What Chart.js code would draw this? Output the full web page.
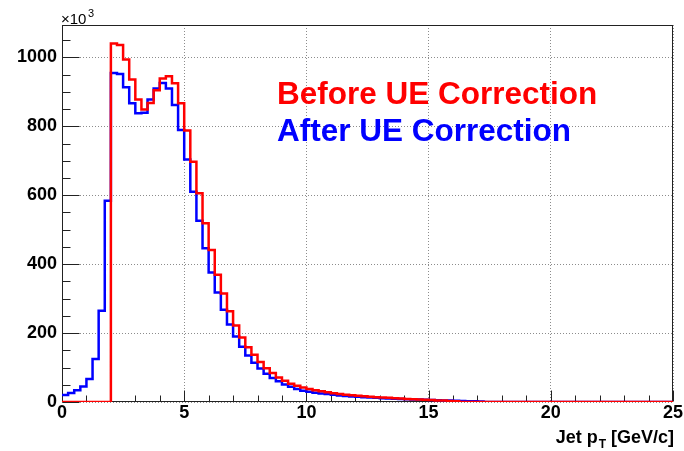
<!DOCTYPE html>
<html>
<head>
<meta charset="utf-8">
<script src="https://cdn.jsdelivr.net/npm/chart.js@4.4.1/dist/chart.umd.min.js"></script>
<style>
  html, body { margin: 0; padding: 0; background: #ffffff; }
  #wrap { width: 684px; height: 451px; }
</style>
</head>
<body>
<div id="wrap"><canvas id="myChart" width="684" height="451"></canvas></div>
<script>
// histogram: 100 bins of 0.25 GeV/c from 0 to 25, values in units of 10^3
var binWidth = 0.25;
var xMin = 0, xMax = 25;

var beforeUE = [
  0, 0, 0, 0, 0, 0, 0, 0,
  1040, 1036, 994, 936, 878, 849, 868, 905, 939, 945, 925, 867,
  788, 697, 606, 519, 441, 369, 315, 263, 222, 187, 159, 137,
  116, 98, 84, 71, 62, 53, 47, 42, 38, 34, 31, 28,
  25.5, 23, 21, 19.5, 18, 16.5, 15, 14, 13, 12, 11, 10,
  9, 8, 7.5, 6.5, 5.5, 4.5, 4, 3, 2, 0, 0, 0,
  0, 0, 0, 0, 0, 0, 0, 0, 0, 0, 0, 0,
  0, 0, 0, 0, 0, 0, 0, 0, 0, 0, 0, 0,
  0, 0, 0, 0
];

var afterUE = [
  20, 26, 34, 45, 67, 125, 265, 584,
  955, 952, 913, 867, 838, 839, 878, 910, 926, 910, 862, 789,
  704, 610, 526, 446, 376, 318, 268, 225, 190, 160, 135, 114,
  97, 82, 70, 60, 51, 44, 38, 33, 30, 27, 25, 23,
  21, 19, 17.5, 16, 15, 14, 13, 12, 11, 10, 9.5, 9,
  8, 7.5, 7, 6.5, 6, 5, 4.5, 4, 3.5, 3, 2.5, 2,
  1.5, 0, 0, 0, 0, 0, 0, 0, 0, 0, 0, 0,
  0, 0, 0, 0, 0, 0, 0, 0, 0, 0, 0, 0,
  0, 0, 0, 0
];

var xTicks = [0, 5, 10, 15, 20, 25];
var yTicks = [0, 200, 400, 600, 800, 1000];
var yMax = 1094;
var xMinorStep = 1, yMinorStep = 50;

// lower bin edges plus the final edge so the last bin gets its full width
function toPoints(values) {
  var pts = [];
  for (var i = 0; i < values.length; i++) {
    pts.push({ x: i * binWidth, y: values[i] });
  }
  pts.push({ x: xMax, y: values[values.length - 1] });
  return pts;
}

var fontFamily = "'Liberation Sans', Arial, Helvetica, sans-serif";

// ROOT style frame with inner ticks, drawn under the histograms
var rootFrame = {
  id: "rootFrame",
  beforeDatasetsDraw: function (chart) {
    var ctx = chart.ctx;
    var a = chart.chartArea;
    var xs = chart.scales.x;
    var ys = chart.scales.y;
    var L = Math.round(a.left) + 0.5;
    var R = Math.round(a.right) - 0.5;
    var T = Math.round(a.top) + 0.5;
    var B = Math.round(a.bottom) - 0.5;
    ctx.save();
    ctx.strokeStyle = "#222222";
    ctx.lineWidth = 1;
    ctx.strokeRect(L, T, R - L, B - T);

    ctx.beginPath();
    for (var v = 0; v <= yMax; v += yMinorStep) {
      var py = Math.round(ys.getPixelForValue(v)) + 0.5;
      var len = v % 200 === 0 ? 17 : 8;
      ctx.moveTo(L, py);
      ctx.lineTo(L + len, py);
    }
    for (var u = xMin; u <= xMax; u += xMinorStep) {
      var px = Math.round(xs.getPixelForValue(u)) + 0.5;
      var len2 = u % 5 === 0 ? 11 : 6;
      ctx.moveTo(px, B);
      ctx.lineTo(px, B - len2);
    }
    ctx.stroke();
    ctx.restore();
  },
  afterDraw: function (chart) {
    var ctx = chart.ctx;
    ctx.save();
    ctx.textBaseline = "alphabetic";
    ctx.textAlign = "left";

    // exponent label
    ctx.fillStyle = "#000000";
    ctx.font = "15px " + fontFamily;
    ctx.fillText("\u00d710", 61, 24);
    ctx.font = "11px " + fontFamily;
    ctx.fillText("3", 88, 17);

    // legend text
    ctx.font = "bold 31.5px " + fontFamily;
    ctx.fillStyle = "#ff0000";
    ctx.fillText("Before UE Correction", 277, 104);
    ctx.fillStyle = "#0000ff";
    ctx.fillText("After UE Correction", 277, 141);

    // x axis title with subscript, right aligned to the frame
    ctx.fillStyle = "#000000";
    var big = "bold 18px " + fontFamily;
    var small = "bold 12px " + fontFamily;
    ctx.font = big;
    var w1 = ctx.measureText("Jet p").width;
    var w3 = ctx.measureText(" [GeV/c]").width;
    ctx.font = small;
    var w2 = ctx.measureText("T").width;
    var x0 = chart.chartArea.right - (w1 + w2 + w3);
    ctx.font = big;
    ctx.fillText("Jet p", x0, 443);
    ctx.font = small;
    ctx.fillText("T", x0 + w1 + 1, 448);
    ctx.font = big;
    ctx.fillText(" [GeV/c]", x0 + w1 + w2 + 1, 443);
    ctx.restore();
  }
};

function plainLabel(value) {
  return String(value);
}

var ctx = document.getElementById("myChart").getContext("2d");
var myChart = new Chart(ctx, {
  type: "line",
  data: {
    datasets: [
      {
        label: "Before UE Correction",
        data: toPoints(beforeUE),
        borderColor: "#ff0000",
        borderWidth: 2.5,
        stepped: "before",
        fill: false,
        pointRadius: 0
      },
      {
        label: "After UE Correction",
        data: toPoints(afterUE),
        borderColor: "#0000ff",
        borderWidth: 2.5,
        stepped: "before",
        fill: false,
        pointRadius: 0
      }
    ]
  },
  options: {
    responsive: false,
    animation: false,
    layout: { padding: { top: 25, right: 11, left: 0, bottom: 0 } },
    plugins: {
      legend: { display: false },
      tooltip: { enabled: false }
    },
    scales: {
      x: {
        type: "linear",
        min: xMin,
        max: xMax,
        afterFit: function (scale) { scale.height = 49; },
        afterBuildTicks: function (scale) {
          scale.ticks = xTicks.map(function (v) { return { value: v }; });
        },
        grid: { color: "#8c8c8c", lineWidth: 1, drawTicks: false },
        border: { display: false, dash: [1, 2] },
        ticks: {
          padding: 0,
          maxRotation: 0,
          color: "#000000",
          callback: plainLabel,
          font: { family: fontFamily, size: 18, weight: "bold" }
        }
      },
      y: {
        type: "linear",
        min: 0,
        max: yMax,
        afterFit: function (scale) { scale.width = 62; },
        afterBuildTicks: function (scale) {
          scale.ticks = yTicks.map(function (v) { return { value: v }; });
        },
        grid: { color: "#8c8c8c", lineWidth: 1, drawTicks: false },
        border: { display: false, dash: [1, 2] },
        ticks: {
          padding: 5,
          color: "#000000",
          callback: plainLabel,
          font: { family: fontFamily, size: 18, weight: "bold" }
        }
      }
    }
  },
  plugins: [rootFrame]
});
</script>
</body>
</html>
